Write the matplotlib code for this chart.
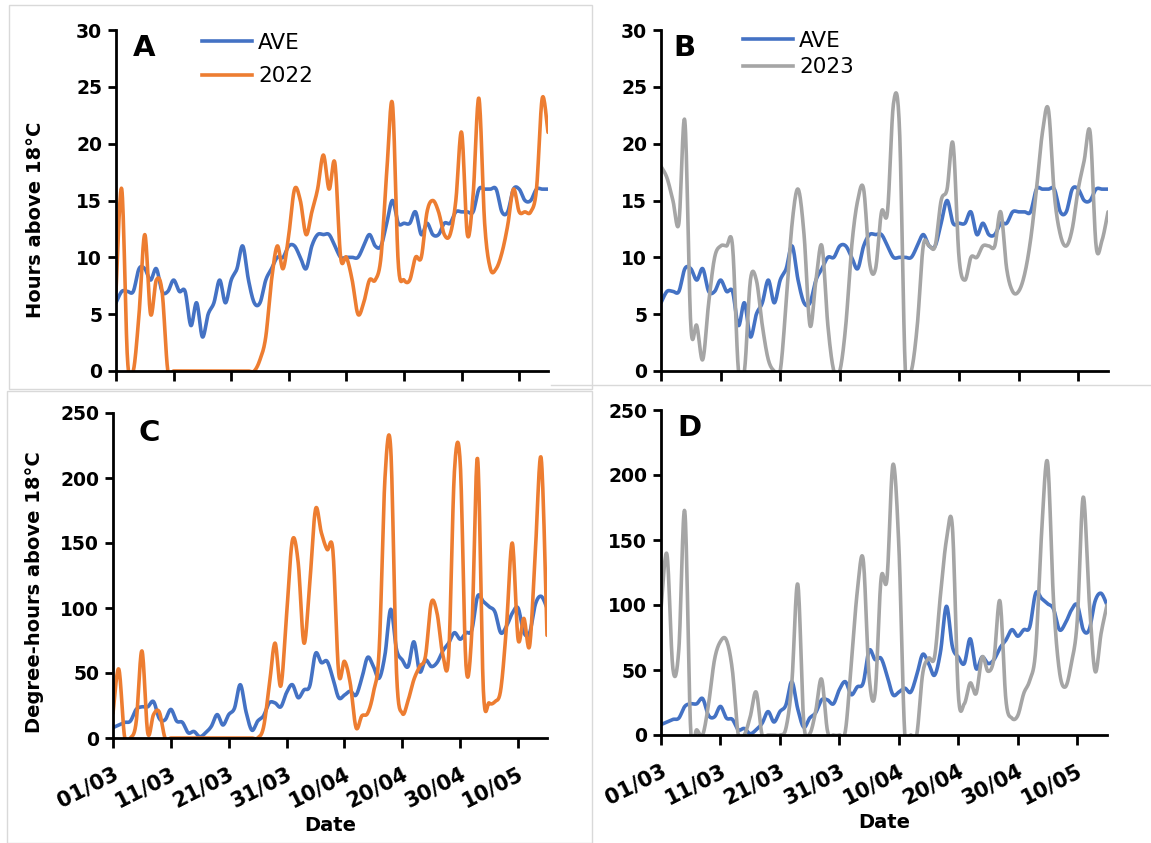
import numpy as np
import matplotlib
matplotlib.use("Agg")
import matplotlib.pyplot as plt
import matplotlib.transforms as mtransforms
from matplotlib.patches import Rectangle
from matplotlib.lines import Line2D

# daily values, 01/03 .. 15/05
tick_labels = ["01/03", "11/03", "21/03", "31/03", "10/04", "20/04", "30/04", "10/05"]

ave_hours = [6, 7, 7, 7, 9, 9, 8, 9, 7, 7,
             8, 7, 7, 4, 6, 3, 5, 6, 8, 6,
             8, 9, 11, 8, 6, 6, 8, 9, 10, 10,
             11, 11, 10, 9, 11, 12, 12, 12, 11, 10,
             10, 10, 10, 11, 12, 11, 11, 13, 15, 13,
             13, 13, 14, 12, 13, 12, 12, 13, 13, 14,
             14, 14, 14, 16, 16, 16, 16, 14, 14, 16,
             16, 15, 15, 16, 16, 16]

hours_2022 = [7, 16, 1, 0, 5, 12, 5, 8, 7, 0,
              0, 0, 0, 0, 0, 0, 0, 0, 0, 0,
              0, 0, 0, 0, 0, 1, 3, 8, 11, 9,
              12, 16, 15, 12, 14, 16, 19, 16, 18.3, 10,
              10, 8, 5, 6, 8, 8, 10, 17.5, 23.5, 9.5,
              8, 8, 10, 10, 14, 15, 14, 12, 12, 15,
              21, 12, 15.5, 24, 13, 9, 9, 10.4, 12.8, 16,
              14, 14, 14, 16, 24, 21]

hours_2023 = [18, 17, 15, 13, 22, 4, 4, 1, 6, 10,
              11, 11, 11, 0, 0, 8, 8, 4, 1, 0,
              0, 6, 13, 16, 12, 4, 8, 11, 4, 0,
              0, 4, 11, 15, 16, 9.5, 9, 14, 14, 23.5,
              21.5, 0, 0, 4, 11, 11, 11, 15, 16, 20,
              10, 8, 10, 10, 11, 11, 11, 14, 9, 7,
              7, 8.5, 11.5, 16, 21, 23, 15.5, 12, 11, 12.5,
              16, 18.5, 21, 11, 11.5, 14]

ave_dh = [8, 10, 12, 13, 22, 24, 24, 28, 15, 14,
          22, 13, 12, 4, 5, 1, 4, 9, 18, 10,
          18, 23, 41, 20, 6, 13, 17, 27, 27, 24,
          35, 41, 31, 37, 40, 65, 58, 59, 46, 31,
          33, 36, 33, 46, 62, 55, 46, 64, 99, 68,
          60, 55, 74, 51, 60, 55, 58, 67, 73, 81,
          76, 81, 83, 109, 105, 101, 97, 81, 86, 96,
          100, 81, 81, 103, 109, 100]

dh_2022 = [19, 53, 1, 0, 12, 67, 4, 18, 20, 0,
           0, 0, 0, 0, 0, 0, 0, 0, 0, 0,
           0, 0, 0, 0, 0, 0, 8, 40, 73, 40,
           95, 152, 135, 73, 119, 176, 158, 145, 144, 50,
           59, 42, 8, 17, 19, 35, 68, 200, 222, 50,
           19, 29, 45, 55, 63, 104, 96, 64, 63, 205,
           212, 56, 81, 215, 37, 27, 28, 37, 86, 150,
           76, 92, 71, 145, 215, 79]

dh_2023 = [97, 139, 51, 66, 172, 3, 4, 0, 24, 58,
           72, 73, 50, 0, 0, 14, 33, 0, 0, 0,
           0, 5, 40, 116, 10, 1, 18, 43, 3, 0,
           0, 3, 55, 110, 135, 45, 32, 120, 120, 208,
           145, 0, 0, 0, 47, 59, 60, 108, 150, 160,
           31, 24, 40, 32, 60, 49, 59, 103, 27, 13,
           15, 32, 42, 65, 155, 210, 104, 49, 37, 55,
           88, 183, 104, 49, 78, 100]

BLUE = "#4472C4"
ORANGE = "#ED7D31"
GREY = "#A5A5A5"
W, H = 1151, 843
LW = 2.6
YTICK_FONT = dict(family="DejaVu Sans", weight="bold", size=13.5)
XTICK_FONT = dict(family="DejaVu Sans", weight="bold", size=15)


def smooth(x, y, n=16):
    # Excel style smoothed line (Bezier through the points)
    pts = np.column_stack([x, y]).astype(float)
    p = np.vstack([pts[0], pts, pts[-1]])
    t = np.linspace(0, 1, n, endpoint=False)[:, None]
    out = []
    for i in range(1, len(p) - 2):
        p0, p1, p2, p3 = p[i - 1], p[i], p[i + 1], p[i + 2]
        c1 = p1 + (p2 - p0) / 6
        c2 = p2 - (p3 - p1) / 6
        out.append((1 - t) ** 3 * p1 + 3 * (1 - t) ** 2 * t * c1
                   + 3 * (1 - t) * t ** 2 * c2 + t ** 3 * p2)
    out.append(pts[-1:])
    s = np.vstack(out)
    return s[:, 0], s[:, 1]


def px_axes(fig, left, top, right, bottom):
    return fig.add_axes([left / W, 1 - bottom / H, (right - left) / W, (bottom - top) / H])


def style(ax, ymax, ystep, show_x):
    days = np.arange(len(ave_hours))
    ax.set_xlim(0, days[-1])
    ax.set_ylim(0, ymax)
    ax.set_yticks(np.arange(0, ymax + 1, ystep))
    ax.set_xticks(np.arange(0, 80, 10))
    for s in ["top", "right"]:
        ax.spines[s].set_visible(False)
    for s in ["left", "bottom"]:
        ax.spines[s].set_linewidth(2.0)
        ax.spines[s].set_color("black")
        ax.spines[s].set_zorder(5)
    ax.tick_params(axis="y", direction="out", length=6, width=2, pad=4)
    ax.tick_params(axis="x", direction="out", length=7, width=2, pad=18)
    for lab in ax.get_yticklabels():
        lab.set(**YTICK_FONT)
    if show_x:
        ax.set_xticklabels(tick_labels, rotation=27, ha="right", va="center",
                           rotation_mode="anchor", **XTICK_FONT)
        shift = mtransforms.ScaledTranslation(4 / 100, 0, ax.figure.dpi_scale_trans)
        for lab in ax.get_xticklabels():
            lab.set_transform(lab.get_transform() + shift)
        ax.set_xlabel("Date", family="DejaVu Sans", weight="bold", size=14, labelpad=3)
    else:
        ax.set_xticklabels([])


def draw(ax, values, color):
    days = np.arange(len(values))
    sx, sy = smooth(days, values)
    ax.plot(sx, sy, color=color, lw=LW, solid_capstyle="round")


fig = plt.figure(figsize=(W / 100, H / 100), dpi=100)

# panel frames
fig.add_artist(Rectangle((9 / W, 1 - 389 / H), 583 / W, 384 / H, transform=fig.transFigure,
                         fill=False, edgecolor="#d9d9d9", lw=1))
fig.add_artist(Rectangle((7 / W, 1 - 843 / H), 585 / W, 452 / H, transform=fig.transFigure,
                         fill=False, edgecolor="#d9d9d9", lw=1))
fig.add_artist(Line2D([551 / W, 1], [1 - 385 / H, 1 - 385 / H], transform=fig.transFigure,
                      color="#d9d9d9", lw=1))

ax_a = px_axes(fig, 116, 30, 548, 371)
ax_b = px_axes(fig, 661, 30, 1108, 371)
ax_c = px_axes(fig, 113, 413, 547, 738)
ax_d = px_axes(fig, 661, 410, 1107, 735)

draw(ax_a, ave_hours, BLUE)
draw(ax_a, hours_2022, ORANGE)
draw(ax_b, ave_hours, BLUE)
draw(ax_b, hours_2023, GREY)
draw(ax_c, ave_dh, BLUE)
draw(ax_c, dh_2022, ORANGE)
draw(ax_d, ave_dh, BLUE)
draw(ax_d, dh_2023, GREY)

style(ax_a, 30, 5, False)
style(ax_b, 30, 5, False)
style(ax_c, 250, 50, True)
style(ax_d, 250, 50, True)

ax_a.set_ylabel("Hours above 18°C", family="DejaVu Sans", weight="bold", size=14)
ax_a.yaxis.set_label_coords(-(116 - 45) / 432, 0.443)
ax_c.set_ylabel("Degree-hours above 18°C", family="DejaVu Sans", weight="bold", size=14)
ax_c.yaxis.set_label_coords(-(113 - 44) / 434, 0.45)

for txt, x, y in [("A", 133, 48), ("B", 673, 48), ("C", 138, 433), ("D", 677, 428)]:
    fig.text(x / W, 1 - y / H, txt, family="DejaVu Sans", weight="bold", size=21,
             ha="left", va="center")

leg_font = dict(family="DejaVu Sans", size=15.5)
ax_a.legend([Line2D([], [], color=BLUE, lw=LW), Line2D([], [], color=ORANGE, lw=LW)],
            ["AVE", "2022"], loc="upper left", bbox_to_anchor=(202 / W, 1 - 33 / H),
            bbox_transform=fig.transFigure, frameon=False, prop=leg_font,
            handlelength=2.3, handletextpad=0.3, labelspacing=0.62,
            borderpad=0, borderaxespad=0)
ax_b.legend([Line2D([], [], color=BLUE, lw=LW), Line2D([], [], color=GREY, lw=LW)],
            ["AVE", "2023"], loc="upper left", bbox_to_anchor=(743 / W, 1 - 31 / H),
            bbox_transform=fig.transFigure, frameon=False, prop=leg_font,
            handlelength=2.3, handletextpad=0.3, labelspacing=0.3,
            borderpad=0, borderaxespad=0)

fig.savefig("out.png", dpi=100)
